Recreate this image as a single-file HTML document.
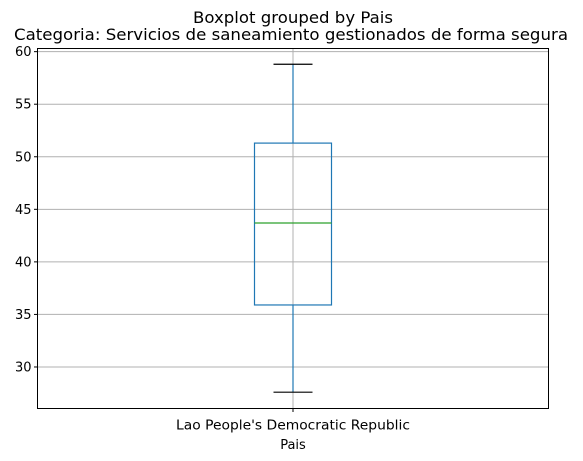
<!DOCTYPE html>
<html><head><meta charset="utf-8"><style>
body{margin:0;background:#fff;}
svg{display:block;font-family:"DejaVu Sans","Liberation Sans",sans-serif;}
</style></head><body>
<svg id="chart" width="583" height="461">
<text x="293" y="23" font-size="16" text-anchor="middle" textLength="200" lengthAdjust="spacingAndGlyphs">Boxplot grouped by Pais</text>
<text x="291" y="40" font-size="16" text-anchor="middle" textLength="554" lengthAdjust="spacingAndGlyphs">Categoria: Servicios de saneamiento gestionados de forma segura</text>
<g id="grid"></g>
<g id="box"></g>
<rect x="37.5" y="48.5" width="511" height="360" fill="none" stroke="#000" stroke-width="1"/>
<g id="yticks"></g>
<text x="293" y="449" font-size="13" text-anchor="middle">Pais</text>
</svg>
<script>
const categories=["Lao People's Democratic Republic"];
const whiskerLow=[27.6];
const q1=[35.9];
const median=[43.7];
const q3=[51.3];
const whiskerHigh=[58.8];
const yTicks=[30,35,40,45,50,55,60];
const NS="http://www.w3.org/2000/svg";
const L=37.5,R=548.5,T=48.5,B=408.5,yMin=26.05,yMax=60.3;
const y=v=>B-(v-yMin)/(yMax-yMin)*(B-T);
const x=i=>L+(R-L)*(i+0.5)/categories.length;
function mk(p,tag,a){const e=document.createElementNS(NS,tag);for(const k in a)e.setAttribute(k,a[k]);document.getElementById(p).appendChild(e);return e;}
yTicks.forEach(t=>{
 const g=mk('grid','line',{x1:L,x2:R,y1:y(t),y2:y(t),stroke:'#b0b0b0','stroke-width':1});
 
 
 const tk=mk('yticks','line',{x1:L-3.5,x2:L,y1:y(t),y2:y(t),stroke:'#000'});
 
 
 const lb=mk('yticks','text',{x:L-6,y:y(t)+4.5,'font-size':13,'text-anchor':'end'});
 lb.textContent=t;
 
 
});
categories.forEach((c,i)=>{
 const cx=x(i);
 const vg=mk('grid','line',{x1:cx,x2:cx,y1:T,y2:B,stroke:'#b0b0b0'});
 
 
 const w1=mk('box','line',{x1:cx,x2:cx,y1:y(q3[i]),y2:y(whiskerHigh[i]),stroke:'#1f77b4','stroke-width':1.2});
 
 
 const w2=mk('box','line',{x1:cx,x2:cx,y1:y(q1[i]),y2:y(whiskerLow[i]),stroke:'#1f77b4','stroke-width':1.2});
 
 
 const bx=mk('box','rect',{x:cx-38.5,y:y(q3[i]),width:77,height:y(q1[i])-y(q3[i]),fill:'none',stroke:'#1f77b4','stroke-width':1.2});
 
 
 const md=mk('box','line',{x1:cx-38.5,x2:cx+38.5,y1:y(median[i]),y2:y(median[i]),stroke:'#2ca02c','stroke-width':1.2});
 
 
 const c1=mk('box','line',{x1:cx-19.5,x2:cx+19.5,y1:y(whiskerHigh[i]),y2:y(whiskerHigh[i]),stroke:'#000','stroke-width':1.2});
 
 
 const c2=mk('box','line',{x1:cx-19.5,x2:cx+19.5,y1:y(whiskerLow[i]),y2:y(whiskerLow[i]),stroke:'#000','stroke-width':1.2});
 
 
 const xt=mk('yticks','line',{x1:cx,x2:cx,y1:B,y2:B+3.5,stroke:'#000'});
 
 
 const xl=mk('yticks','text',{x:cx,y:B+21,'font-size':13,'text-anchor':'middle',textLength:234,lengthAdjust:'spacingAndGlyphs'});
 xl.textContent=c;
 
 
});
</script>
</body></html>
